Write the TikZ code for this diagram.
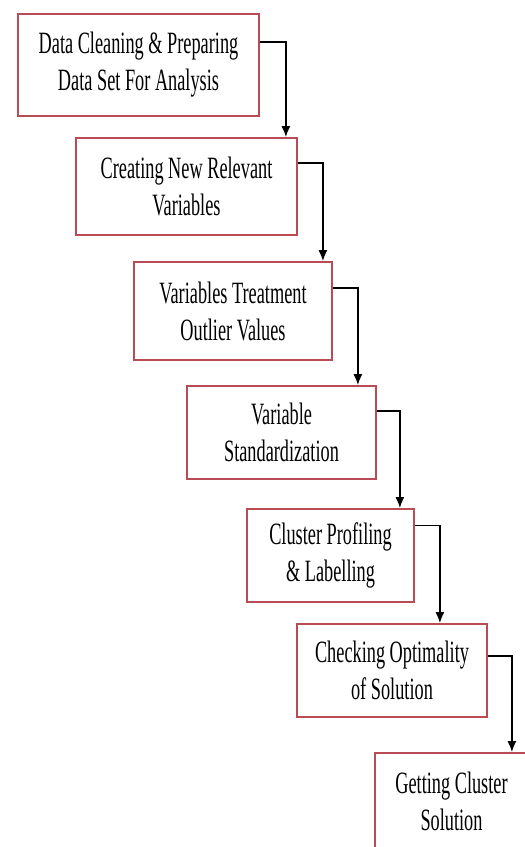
\documentclass[tikz,border=0pt]{standalone}
\usepackage{fontspec}
\setmainfont{Liberation Serif}[FakeStretch=0.59]
\usetikzlibrary{arrows.meta}
\definecolor{boxred}{RGB}{185,75,85}
\begin{document}
\begin{tikzpicture}[x=1pt,y=-1pt,
  stepbox/.style={draw=boxred,line width=1.8pt,fill=white,align=center,
    inner sep=0pt,font=\fontsize{31}{37}\selectfont},
  arr/.style={draw=black,line width=1.5pt,-{Latex[length=11pt,width=9pt]}}]
\useasboundingbox (0,0) rectangle (525,847);
\clip (0,0) rectangle (525,847);
\fill[white] (0,0) rectangle (525,847);
\node[stepbox,minimum width=241pt,minimum height=102pt] (b1) at (138.5,65) {Data Cleaning \& Preparing\\Data Set For Analysis};
\node[stepbox,minimum width=221pt,minimum height=97pt] (b2) at (186.5,186.5) {Creating New Relevant\\Variables};
\node[stepbox,minimum width=198pt,minimum height=98pt] (b3) at (233,311) {Variables Treatment\\Outlier Values};
\node[stepbox,minimum width=189pt,minimum height=93pt] (b4) at (281.5,432.5) {Variable\\Standardization};
\node[stepbox,minimum width=167pt,minimum height=93pt] (b5) at (330.5,555.5) {Cluster Profiling\\\& Labelling};
\node[stepbox,minimum width=190pt,minimum height=93pt] (b6) at (392,670.5) {Checking Optimality\\of Solution};
\node[stepbox,minimum width=153pt,minimum height=96pt] (b7) at (451.5,801) {Getting Cluster\\Solution};
\draw[arr] ([yshift=23pt]b1.east) -| ([xshift=-12pt]b2.north east);
\draw[arr] ([yshift=23.5pt]b2.east) -| ([xshift=-10pt]b3.north east);
\draw[arr] ([yshift=23pt]b3.east) -| ([xshift=-19pt]b4.north east);
\draw[arr] ([yshift=21.5pt]b4.east) -| ([xshift=-15pt]b5.north east);
\draw[arr] ([yshift=30pt]b5.east) -| ([xshift=-48pt]b6.north east);
\draw[arr] ([yshift=14.5pt]b6.east) -| ([xshift=-17pt]b7.north east);
\end{tikzpicture}
\end{document}
